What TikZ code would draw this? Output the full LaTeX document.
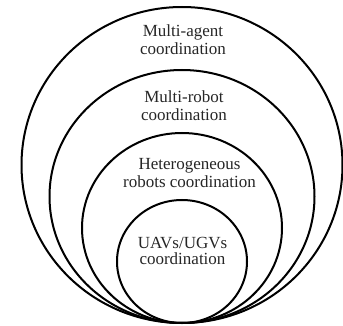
\documentclass[tikz,border=0pt]{standalone}
\usepackage{fontspec}
\setmainfont{Liberation Serif}
\begin{document}
\begin{tikzpicture}[x=1pt,y=-1pt,
  ring/.style={draw=black,line width=2pt},
  lbl/.style={anchor=base,inner sep=0pt,text=black!85,font=\fontsize{17}{19}\selectfont}]
\useasboundingbox (0,0) rectangle (343,326);
\draw[ring] (182,165) ellipse [x radius=160.5,y radius=158];
\draw[ring] (182,196.5) ellipse [x radius=132.5,y radius=126.5];
\draw[ring] (182,228) ellipse [x radius=100,y radius=95];
\draw[ring] (182,261.5) ellipse [x radius=65,y radius=61.5];
\node[lbl] (a1) at (183,37) {Multi-agent};
\node[lbl] (a2) at (183,55) {coordination};
\node[lbl] (b1) at (184,103) {Multi-robot};
\node[lbl] (b2) at (184,121) {coordination};
\node[lbl] (c1) at (189.5,170) {Heterogeneous};
\node[lbl] (c2) at (189.5,188) {robots coordination};
\node[lbl] (d1) at (182.5,248) {UAVs/UGVs};
\node[lbl] (d2) at (182.5,265) {coordination};
\end{tikzpicture}
\end{document}
